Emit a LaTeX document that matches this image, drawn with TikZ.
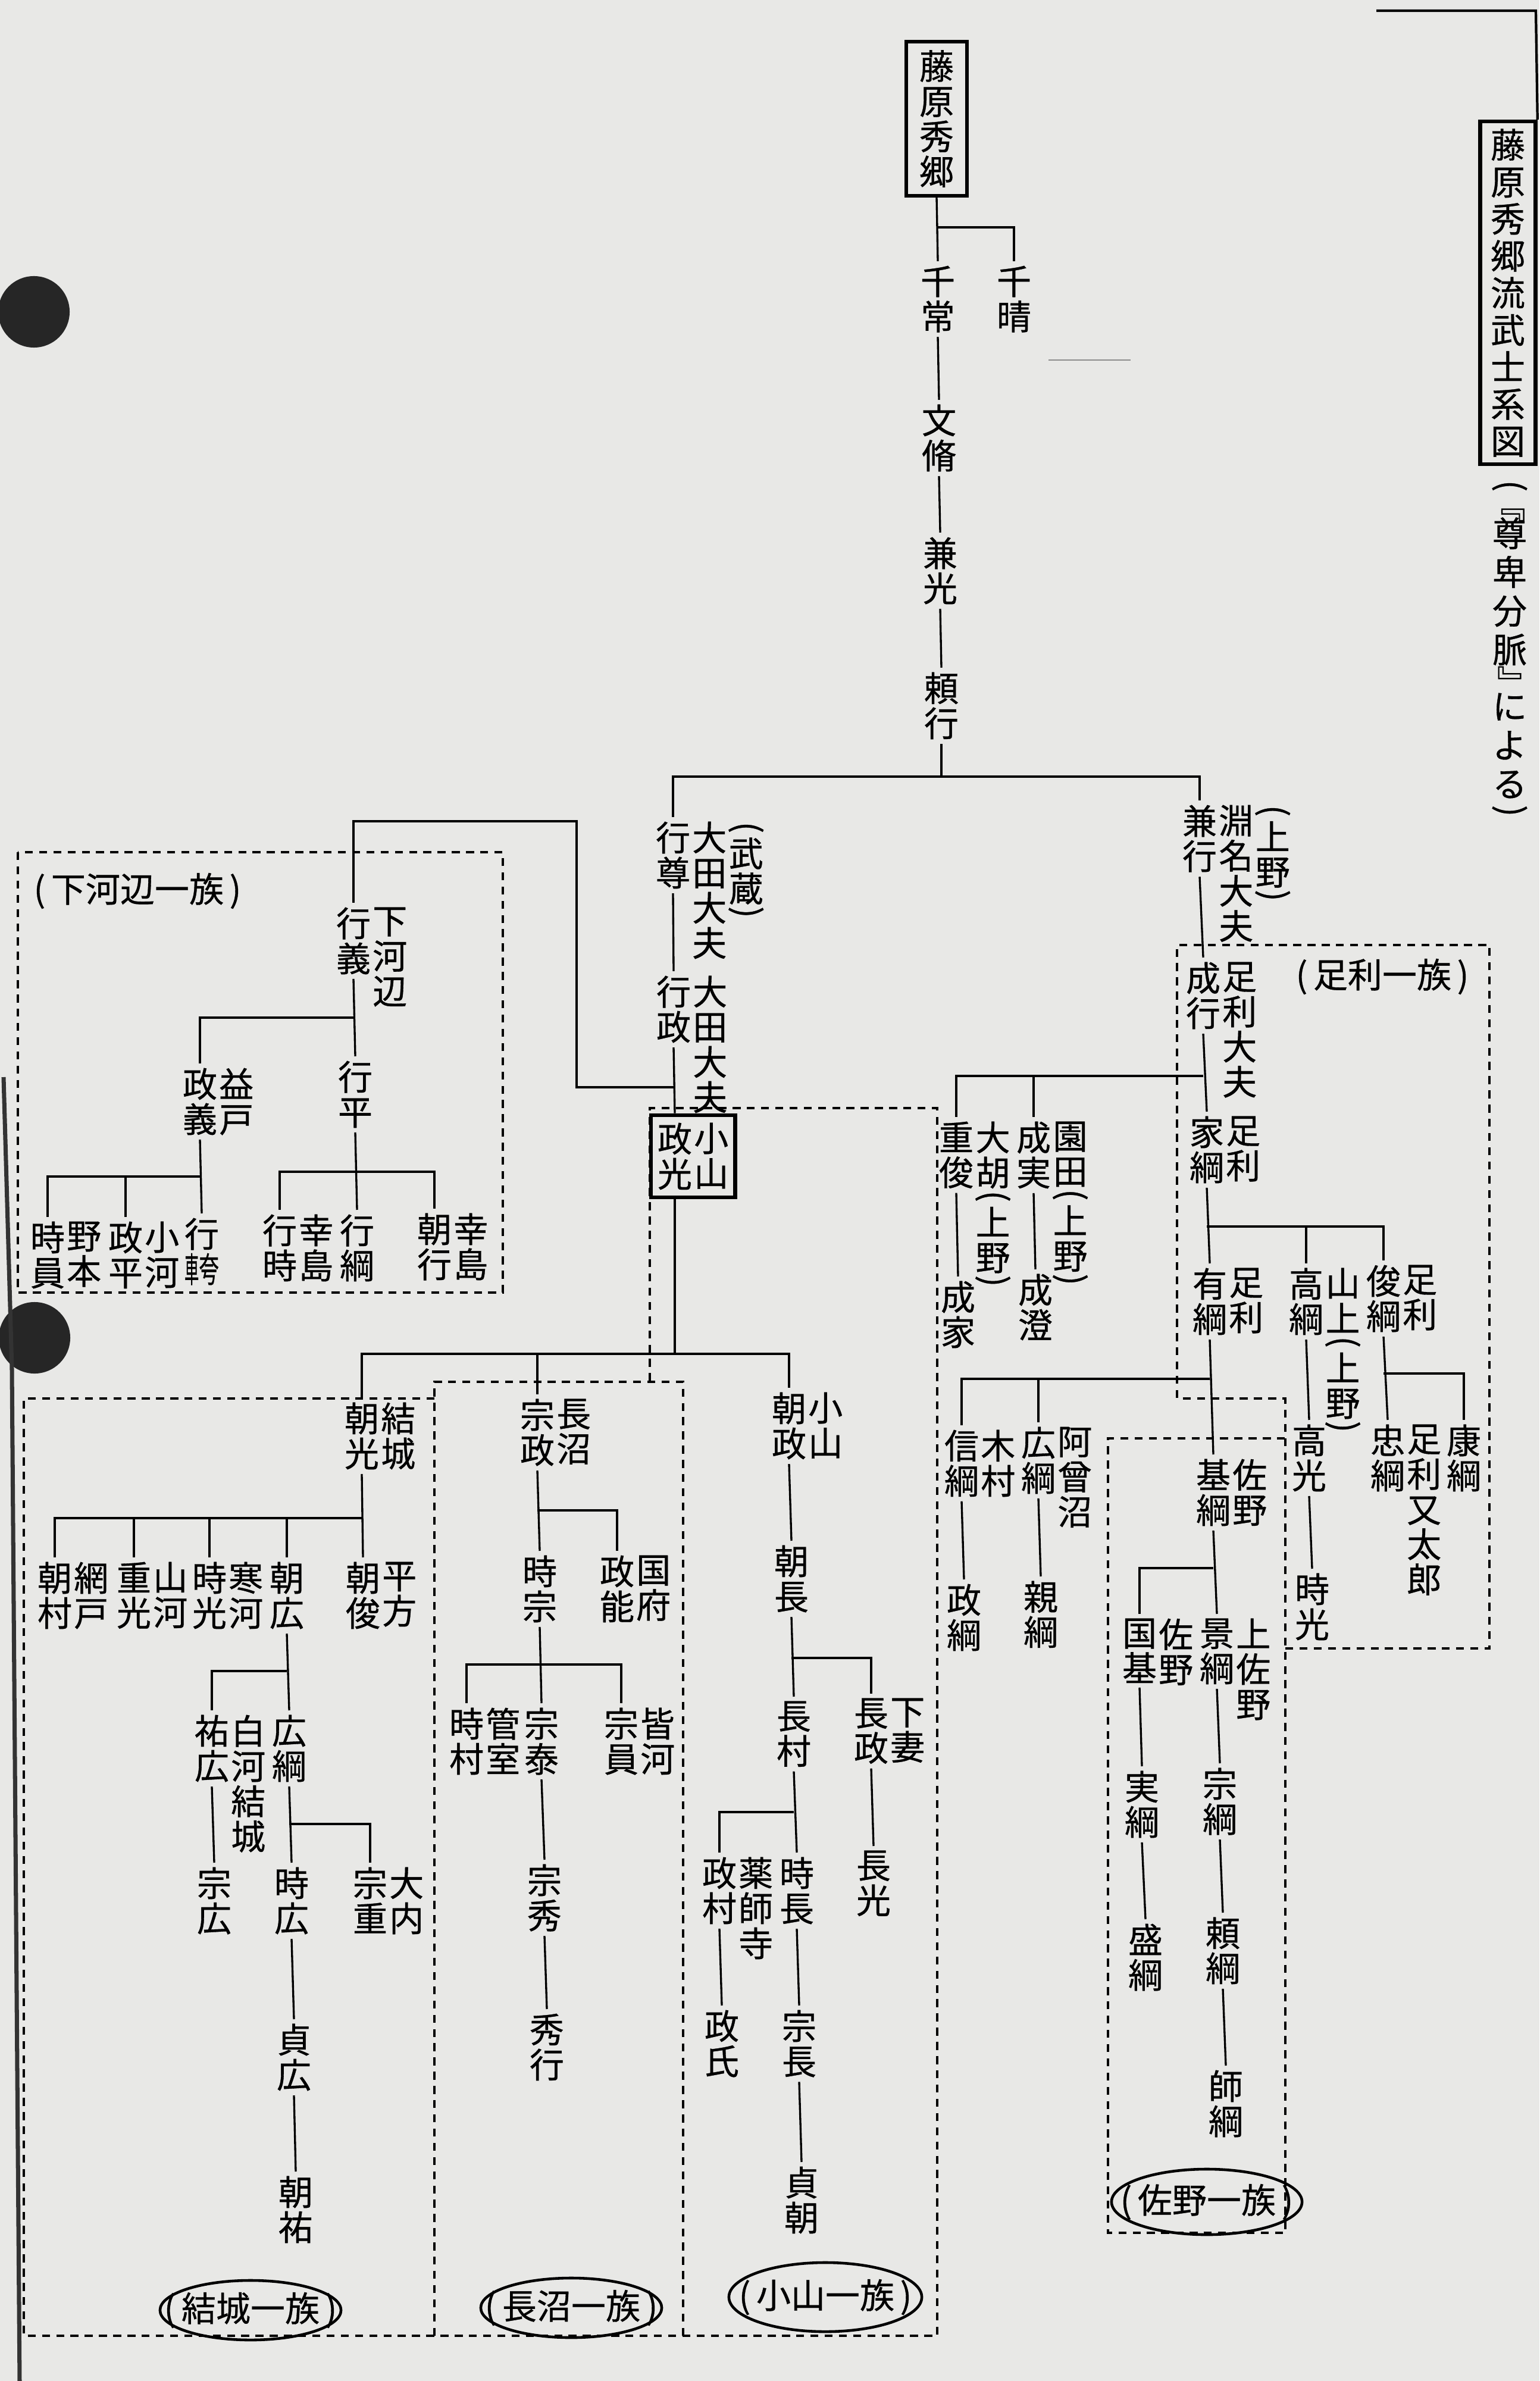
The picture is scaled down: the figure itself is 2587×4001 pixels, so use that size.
\documentclass[tikz,border=0pt]{standalone}
\usepackage{fontspec}
\setmainfont{Noto Sans CJK JP}[FakeBold=0.6]
\usepackage{graphicx}
\usetikzlibrary{fit}
\definecolor{paper}{RGB}{232,232,230}
\newcommand\jf{\fontsize{16.5pt}{16.8pt}\selectfont}
\newcommand\vpo{\rotatebox[origin=c]{-90}{(}}
\newcommand\vpc{\rotatebox[origin=c]{-90}{)}}
\newcommand\vqo{\rotatebox[origin=c]{-90}{『}}
\newcommand\vqc{\rotatebox[origin=c]{-90}{』}}
\newcommand\kaX{\mbox{\scalebox{0.42}[1]{車}\scalebox{0.58}[1]{夸}}}
\newcommand\pnode[4]{\node[nm] (#1) at (#2,#3) {#4};}
\newcommand\pann[3]{\node[an] (#1) at (#2.north east) {#3};}
\tikzset{
 nm/.style={font=\jf, align=center, inner xsep=0pt, inner ysep=2pt, anchor=north, yshift=2pt},
 an/.style={font=\jf, align=center, inner xsep=0pt, inner ysep=2pt, anchor=north west, xshift=0.5pt},
 ln/.style={line width=0.95pt},
 dbox/.style={line width=1.2pt, dash pattern=on 3.8pt off 3pt},
 boxed/.style={draw, line width=1.8pt},
 lbl/.style={font=\jf, inner sep=0pt},
 oval/.style={line width=1.3pt},
}
\begin{document}
\begin{tikzpicture}[x=0.01cm,y=-0.01cm]
\fill[paper] (0,0) rectangle (2587,4001);
\useasboundingbox (0,0) rectangle (2587,4001);
% scan marks
\fill[black!85] (57,524) circle [radius=0.6cm];
\fill[black!85] (58,2248) circle [radius=0.6cm];
\draw[black!80, line width=2pt] (6,1810) -- (20,2300) -- (33,4001);
\draw[black!45, line width=0.8pt] (1762,605) -- (1900,605);

% ---------- title ----------
\node[font=\fontsize{16.5pt}{17.7pt}\selectfont, align=center, boxed, inner xsep=5pt, inner ysep=3.5pt, anchor=north] (title) at (2534,201) {藤\\原\\秀\\郷\\流\\武\\士\\系\\図};
\coordinate (fr1) at (2313,18);
\coordinate (fr2) at (2581,18);
\draw[line width=1.2pt] (fr1) -- (fr2) -- (title.north east);
\node[font=\fontsize{16.5pt}{18.5pt}\selectfont, align=center, inner sep=0pt, anchor=north] (src) at (2537,806) {\vpo\\[-0.45em]\vqo\\[-0.35em]尊\\卑\\分\\脈\\[-0.3em]\vqc\\[-0.3em]に\\よ\\る\\[-0.4em]\vpc};

% ---------- trunk ----------
\node[font=\jf, align=center, boxed, inner xsep=6.3pt, inner ysep=4pt, anchor=north] (hide) at (1574,67) {藤\\原\\秀\\郷};
\pnode{chitsune}{1576}{446}{千\\常}
\pnode{chiharu}{1704}{446}{千\\晴}
\pnode{fumi}{1578}{679}{文\\脩}
\pnode{kanemitsu}{1580}{902}{兼\\光}
\pnode{yoriyuki}{1582}{1129}{頼\\行}

% Ota line
\pnode{yukitaka}{1131}{1380}{行\\尊}
\pann{yukitakaA}{yukitaka}{大\\田\\大\\夫}
\pann{yukitakaB}{yukitakaA}{\vpo\\[-0.2em]武\\蔵\\[-0.4em]\vpc}
\pnode{yukimasa}{1132}{1639}{行\\政}
\pann{yukimasaA}{yukimasa}{大\\田\\大\\夫}
\pnode{masamitsu}{1134}{1886}{政\\光}
\pann{masamitsuA}{masamitsu}{小\\山}
\node[fit=(masamitsu)(masamitsuA), boxed, inner xsep=3pt, inner ysep=1.5pt] (mmbox) {};

% Shimokobe
\pnode{yukiyoshi}{594}{1524}{行\\義}
\pann{yukiyoshiA}{yukiyoshi}{下\\河\\辺}
\pnode{masayoshi}{336}{1794}{政\\義}
\pann{masayoshiA}{masayoshi}{益\\戸}
\pnode{yukihira}{597}{1782}{行\\平}
\pnode{tokikazu}{80}{2052}{時\\員}
\pann{tokikazuA}{tokikazu}{野\\本}
\pnode{masahira}{211}{2052}{政\\平}
\pann{masahiraA}{masahira}{小\\河}
\pnode{yukiX}{339}{2046}{行\\\kaX}
\pnode{yukitoki}{470}{2040}{行\\時}
\pann{yukitokiA}{yukitoki}{幸\\島}
\pnode{yukitsuna}{600}{2040}{行\\綱}
\pnode{tomoyuki}{730}{2038}{朝\\行}
\pann{tomoyukiA}{tomoyuki}{幸\\島}

% Yuki
\pnode{tomomitsu}{608}{2356}{朝\\光}
\pann{tomomitsuA}{tomomitsu}{結\\城}
\pnode{tomomura}{92}{2624}{朝\\村}
\pann{tomomuraA}{tomomura}{網\\戸}
\pnode{shigemitsu}{225}{2624}{重\\光}
\pann{shigemitsuA}{shigemitsu}{山\\河}
\pnode{tokimitsuY}{352}{2624}{時\\光}
\pann{tokimitsuYA}{tokimitsuY}{寒\\河}
\pnode{tomohiro}{482}{2624}{朝\\広}
\pnode{tomotoshi}{610}{2624}{朝\\俊}
\pann{tomotoshiA}{tomotoshi}{平\\方}
\pnode{sukehiro}{356}{2881}{祐\\広}
\pann{sukehiroA}{sukehiro}{白\\河\\結\\城}
\pnode{hirotsunaY}{486}{2881}{広\\綱}
\pnode{munehiroY}{360}{3137}{宗\\広}
\pnode{tokihiro}{490}{3137}{時\\広}
\pnode{muneshige}{622}{3137}{宗\\重}
\pann{muneshigeA}{muneshige}{大\\内}
\pnode{sadahiro}{494}{3400}{貞\\広}
\pnode{tomosuke}{497}{3656}{朝\\祐}

% Naganuma
\pnode{munemasa}{903}{2350}{宗\\政}
\pann{munemasaA}{munemasa}{長\\沼}
\pnode{tokimune}{907}{2613}{時\\宗}
\pnode{masayoshiN}{1037}{2613}{政\\能}
\pann{masayoshiNA}{masayoshiN}{国\\府}
\pnode{tokimura}{784}{2869}{時\\村}
\pann{tokimuraA}{tokimura}{管\\室}
\pnode{muneyasu}{910}{2869}{宗\\泰}
\pnode{munekazu}{1044}{2869}{宗\\員}
\pann{munekazuA}{munekazu}{皆\\河}
\pnode{munehide}{915}{3132}{宗\\秀}
\pnode{hideyuki}{919}{3383}{秀\\行}

% Oyama
\pnode{tomomasa}{1326}{2339}{朝\\政}
\pann{tomomasaA}{tomomasa}{小\\山}
\pnode{tomonaga}{1330}{2596}{朝\\長}
\pnode{nagamura}{1334}{2858}{長\\村}
\pnode{nagamasa}{1464}{2853}{長\\政}
\pann{nagamasaA}{nagamasa}{下\\妻}
\pnode{nagamitsu}{1468}{3109}{長\\光}
\pnode{masamura}{1209}{3120}{政\\村}
\pann{masamuraA}{masamura}{薬\\師\\寺}
\pnode{tokinaga}{1339}{3120}{時\\長}
\pnode{masauji}{1213}{3377}{政\\氏}
\pnode{munenaga}{1343}{3377}{宗\\長}
\pnode{sadatomo}{1347}{3640}{貞\\朝}

% Ashikaga / Sano
\pnode{kaneyuki}{2016}{1352}{兼\\行}
\pann{kaneyukiA}{kaneyuki}{淵\\名\\大\\夫}
\pann{kaneyukiB}{kaneyukiA}{\vpo\\[-0.2em]上\\野\\[-0.4em]\vpc}
\pnode{nariyuki}{2022}{1616}{成\\行}
\pann{nariyukiA}{nariyuki}{足\\利\\大\\夫}
\pnode{shigetoshi}{1607}{1884}{重\\俊}
\pann{shigetoshiA}{shigetoshi}{大\\胡\\[-0.4em]\vpo\\[-0.2em]上\\野\\[-0.4em]\vpc}
\pnode{narizane}{1737}{1884}{成\\実}
\pann{narizaneA}{narizane}{園\\田\\[-0.4em]\vpo\\[-0.2em]上\\野\\[-0.4em]\vpc}
\pnode{ietsuna}{2028}{1875}{家\\綱}
\pann{ietsunaA}{ietsuna}{足\\利}
\pnode{narie}{1610}{2152}{成\\家}
\pnode{narizumi}{1740}{2140}{成\\澄}
\pnode{aritsuna}{2033}{2130}{有\\綱}
\pann{aritsunaA}{aritsuna}{足\\利}
\pnode{takatsuna}{2195}{2130}{高\\綱}
\pann{takatsunaA}{takatsuna}{山\\上\\[-0.4em]\vpo\\[-0.2em]上\\野\\[-0.4em]\vpc}
\pnode{toshitsuna}{2325}{2125}{俊\\綱}
\pann{toshitsunaA}{toshitsuna}{足\\利}
\pnode{takamitsu}{2200}{2393}{高\\光}
\pnode{tokimitsuA}{2205}{2643}{時\\光}
\pnode{tadatsuna}{2332}{2393}{忠\\綱}
\pann{tadatsunaA}{tadatsuna}{足\\利\\又\\太\\郎}
\pnode{yasutsuna}{2460}{2393}{康\\綱}
\pnode{nobutsuna}{1616}{2402}{信\\綱}
\pann{nobutsunaA}{nobutsuna}{木\\村}
\pnode{hirotsunaA}{1745}{2397}{広\\綱}
\pann{hirotsunaAA}{hirotsunaA}{阿\\曾\\沼}
\pnode{mototsuna}{2039}{2451}{基\\綱}
\pann{mototsunaA}{mototsuna}{佐\\野}
\pnode{masatsuna}{1620}{2661}{政\\綱}
\pnode{chikatsuna}{1749}{2656}{親\\綱}
\pnode{kunimoto}{1915}{2719}{国\\基}
\pann{kunimotoA}{kunimoto}{佐\\野}
\pnode{kagetsuna}{2045}{2719}{景\\綱}
\pann{kagetsunaA}{kagetsuna}{上\\佐\\野}
\pnode{sanetsuna}{1919}{2975}{実\\綱}
\pnode{moritsuna}{1925}{3232}{盛\\綱}
\pnode{munetsuna}{2050}{2970}{宗\\綱}
\pnode{yoritsuna}{2055}{3221}{頼\\綱}
\pnode{morotsuna}{2060}{3478}{師\\綱}

% ---------- branch levels ----------
\coordinate (lA) at (0,382);
\coordinate (lB) at (0,1305);
\coordinate (sk1) at (969,1380);
\coordinate (sk2) at (969,1827);
\coordinate (lD) at (0,2275);
\coordinate (lE) at (0,2551);
\coordinate (lF) at (0,2808);
\coordinate (lG) at (0,3065);
\coordinate (lH) at (0,2538);
\coordinate (lI) at (0,2797);
\coordinate (lJ) at (0,2786);
\coordinate (lK) at (0,3045);
\coordinate (lL) at (0,1710);
\coordinate (lM) at (0,1977);
\coordinate (lN) at (0,1969);
\coordinate (lO) at (0,1808);
\coordinate (lP) at (0,2061);
\coordinate (lQ) at (0,2308);
\coordinate (lR) at (0,2317);
\coordinate (lS) at (0,2635);

% ---------- connectors ----------
\begin{scope}[ln]
\draw (hide.south) -- (chitsune.north);
\draw (chiharu.north) |- (hide.south |- lA);
\draw (chitsune.south) -- (fumi.north);
\draw (fumi.south) -- (kanemitsu.north);
\draw (kanemitsu.south) -- (yoriyuki.north);
\draw (yoriyuki.south) -- (yoriyuki.south |- lB);
\draw (yukitaka.north) |- (yoriyuki.south |- lB);
\draw (kaneyuki.north) |- (yoriyuki.south |- lB);
\draw (yukitaka.south) -- (yukimasa.north);
\draw (yukimasa.south) -- (mmbox.north -| masamitsu);
\draw (yukiyoshi.north) |- (sk1) -- (sk2) -- (yukimasa.south |- sk2);
\draw (mmbox.south -| masamitsu) -- (masamitsu |- lD);
\draw (tomomitsu.north) |- (masamitsu |- lD);
\draw (munemasa.north) |- (masamitsu |- lD);
\draw (tomomasa.north) |- (masamitsu |- lD);
% Shimokobe
\draw (yukiyoshi.south) -- (yukihira.north);
\draw (masayoshi.north) |- (yukiyoshi.south |- lL);
\draw (masayoshi.south) -- (yukiX.north);
\draw (tokikazu.north) |- (masayoshi.south |- lM);
\draw (masahira.north) |- (masayoshi.south |- lM);
\draw (yukihira.south) -- (yukitsuna.north);
\draw (yukitoki.north) |- (yukihira.south |- lN);
\draw (tomoyuki.north) |- (yukihira.south |- lN);
% Yuki
\draw (tomomitsu.south) -- (tomotoshi.north);
\foreach \c in {tomomura,shigemitsu,tokimitsuY,tomohiro}
  \draw (\c.north) |- (tomomitsu.south |- lE);
\draw (tomohiro.south) -- (hirotsunaY.north);
\draw (sukehiro.north) |- (tomohiro.south |- lF);
\draw (sukehiro.south) -- (munehiroY.north);
\draw (hirotsunaY.south) -- (tokihiro.north);
\draw (muneshige.north) |- (hirotsunaY.south |- lG);
\draw (tokihiro.south) -- (sadahiro.north);
\draw (sadahiro.south) -- (tomosuke.north);
% Naganuma
\draw (munemasa.south) -- (tokimune.north);
\draw (masayoshiN.north) |- (munemasa.south |- lH);
\draw (tokimune.south) -- (muneyasu.north);
\draw (tokimura.north) |- (tokimune.south |- lI);
\draw (munekazu.north) |- (tokimune.south |- lI);
\draw (muneyasu.south) -- (munehide.north);
\draw (munehide.south) -- (hideyuki.north);
% Oyama
\draw (tomomasa.south) -- (tomonaga.north);
\draw (tomonaga.south) -- (nagamura.north);
\draw (nagamasa.north) |- (tomonaga.south |- lJ);
\draw (nagamasa.south) -- (nagamitsu.north);
\draw (nagamura.south) -- (tokinaga.north);
\draw (masamura.north) |- (nagamura.south |- lK);
\draw (masamura.south) -- (masauji.north);
\draw (tokinaga.south) -- (munenaga.north);
\draw (munenaga.south) -- (sadatomo.north);
% Ashikaga
\draw (kaneyuki.south) -- (nariyuki.north);
\draw (nariyuki.south) -- (ietsuna.north);
\draw (shigetoshi.north) |- (nariyuki.south |- lO);
\draw (narizane.north) |- (nariyuki.south |- lO);
\draw (shigetoshi.south) -- (narie.north);
\draw (narizane.south) -- (narizumi.north);
\draw (ietsuna.south) -- (aritsuna.north);
\draw (takatsuna.north) |- (ietsuna.south |- lP);
\draw (toshitsuna.north) |- (ietsuna.south |- lP);
\draw (takatsuna.south) -- (takamitsu.north);
\draw (takamitsu.south) -- (tokimitsuA.north);
\draw (toshitsuna.south) -- (tadatsuna.north);
\draw (yasutsuna.north) |- (toshitsuna.south |- lQ);
\draw (aritsuna.south) -- (mototsuna.north);
\draw (nobutsuna.north) |- (aritsuna.south |- lR);
\draw (hirotsunaA.north) |- (aritsuna.south |- lR);
\draw (nobutsuna.south) -- (masatsuna.north);
\draw (hirotsunaA.south) -- (chikatsuna.north);
\draw (mototsuna.south) -- (kagetsuna.north);
\draw (kunimoto.north) |- (mototsuna.south |- lS);
\draw (kunimoto.south) -- (sanetsuna.north);
\draw (sanetsuna.south) -- (moritsuna.north);
\draw (kagetsuna.south) -- (munetsuna.north);
\draw (munetsuna.south) -- (yoritsuna.north);
\draw (yoritsuna.south) -- (morotsuna.north);
\end{scope}

% ---------- family boxes ----------
\draw[dbox] (30,1432) rectangle (845,2172);
\draw[dbox] (730,2350) -- (40,2350) -- (40,3925) -- (1575,3925) -- (1575,1862) -- (1092,1862) -- (1092,2322);
\draw[dbox] (730,3925) -- (730,2322) -- (1148,2322) -- (1148,3925);
\draw[dbox] (2160,2770) -- (2503,2770) -- (2503,1588) -- (1978,1588) -- (1978,2350) -- (2160,2350) -- (2160,3752) -- (1862,3752) -- (1862,2417) -- (2160,2417);

% ---------- family labels ----------
\node[lbl] (lShimo) at (231,1497) {(\,下河辺一族\,)};
\node[lbl] (lAshi) at (2323,1641) {(\,足利一族\,)};
\node[lbl] (lYuki) at (421,3882) {(\,結城一族\,)};
\node[lbl] (lNaga) at (960,3878) {(\,長沼一族\,)};
\node[lbl] (lOyama) at (1387,3860) {(\,小山一族\,)};
\node[lbl] (lSano) at (2028,3700) {(\,佐野一族\,)};
\draw[oval] (lYuki.center) ellipse [x radius=1.52cm, y radius=0.5cm];
\draw[oval] (lNaga.center) ellipse [x radius=1.52cm, y radius=0.5cm];
\draw[oval] (lOyama.center) ellipse [x radius=1.62cm, y radius=0.58cm];
\draw[oval] (lSano.center) ellipse [x radius=1.6cm, y radius=0.55cm];
\end{tikzpicture}
\end{document}
